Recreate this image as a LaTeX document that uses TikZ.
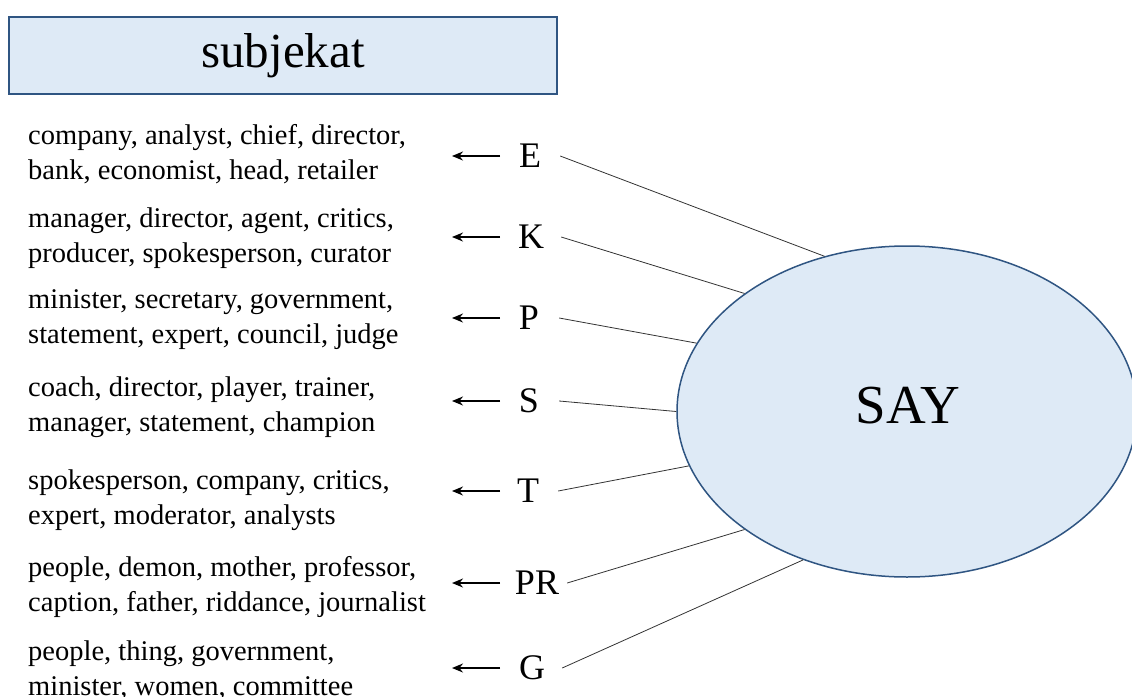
\documentclass[tikz,border=0pt]{standalone}
\usepackage{fontspec}
\setmainfont{Liberation Serif}
\usetikzlibrary{arrows.meta, shapes.geometric}
\definecolor{boxfill}{RGB}{222,234,246}
\definecolor{boxline}{RGB}{47,85,130}
\tikzset{
    title box/.style={
        draw=boxline, line width=2pt, fill=boxfill,
        minimum width=548pt, minimum height=77pt, inner sep=0pt,
        font=\fontsize{49}{56}\selectfont
    },
    verb oval/.style={
        ellipse, draw=boxline, line width=1.5pt, fill=boxfill,
        minimum width=460pt, minimum height=331pt, inner sep=0pt
    },
    word list/.style={
        anchor=west, align=left, inner sep=0pt,
        font=\fontsize{28.5}{35}\selectfont
    },
    domain letter/.style={minimum width=60pt, inner sep=0pt, font=\fontsize{36}{40}\selectfont},
    to words/.style={-{Stealth[length=11pt, width=9pt]}, line width=1.4pt},
    spoke/.style={line width=0.8pt, draw=black!80}
}

\begin{document}
\begin{tikzpicture}[x=1pt, y=-1pt]
        \useasboundingbox (0,0) rectangle (1132,696);

        \node[title box] (title) at (283,55.5) {subjekat};
        \node[verb oval] (say) at (907,411.5) {};
        \node[font=\fontsize{55}{60}\selectfont] (say-label) at (908,406) {SAY};

        \coordinate (start) at (500,0);
        \coordinate (tip) at (452,0);

        \foreach \name/\x/\y/\ang in {E/530/156/118.8, K/531/237/144.3, P/529/318/162.1,
                S/529/401/180.3, T/528/491/194, PR/537/583/216.2, G/532/668/235.9} {
            \node[domain letter] (\name) at (\x,\y) {\name};
            \draw[to words] (\name -| start) -- (\name -| tip);
            \draw[spoke] (\name.east) -- (say.\ang);
        }

        \foreach \i/\y/\words in {
                1/154/{company, analyst, chief, director,\\bank, economist, head, retailer},
                2/238/{manager, director, agent, critics,\\producer, spokesperson, curator},
                3/320/{minister, secretary, government,\\statement, expert, council, judge},
                4/407/{coach, director, player, trainer,\\manager, statement, champion},
                5/500/{spokesperson, company, critics,\\expert, moderator, analysts},
                6/587/{people, demon, mother, professor,\\caption, father, riddance, journalist},
                7/670/{people, thing, government,\\minister, women, committee}} {
            \node[word list] (words-\i) at (28,\y) {\words};
        }
    \end{tikzpicture}
\end{document}
